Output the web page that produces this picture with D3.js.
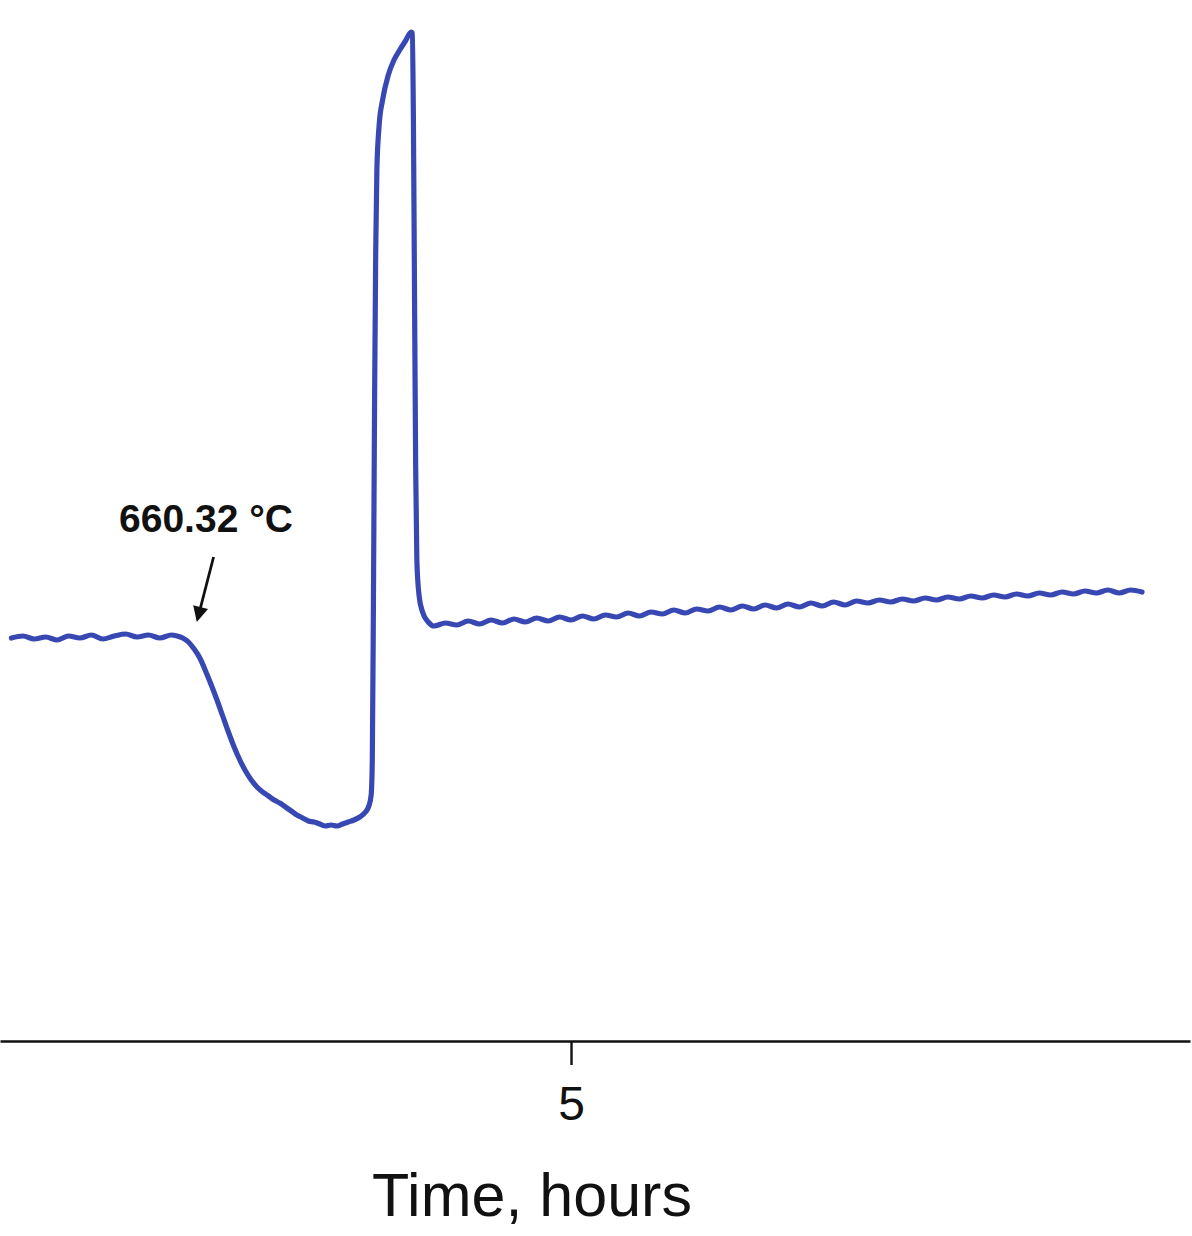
<!DOCTYPE html>
<html>
<head>
<meta charset="utf-8">
<script src="https://cdn.jsdelivr.net/npm/d3@7"></script>
<style>
  html, body { margin: 0; padding: 0; background: #fff; }
  svg { display: block; }
</style>
</head>
<body>
<svg id="chart" width="1192" height="1236"></svg>
<script>
// Time in hours
const timeHours = [
  0.1,0.2,0.3,0.4,0.5,0.6,0.7,0.8,0.9,1.0,1.1,1.2,1.3,1.4,1.5,1.55,1.6,1.65,1.7,1.75,
  1.8,1.85,1.9,1.95,2.0,2.05,2.1,2.15,2.2,2.25,2.3,2.35,2.4,2.45,2.5,2.55,2.6,2.65,2.7,2.75,
  2.8,2.85,2.9,2.95,3.0,3.05,3.1,3.15,3.2,3.23,3.25,3.26,3.27,3.28,3.29,3.3,3.32,3.35,3.4,3.45,
  3.5,3.55,3.6,3.61,3.62,3.63,3.64,3.65,3.67,3.7,3.75,3.8,3.9,4.0,4.1,4.2,4.3,4.4,4.5,4.6,
  4.7,4.8,4.9,5.0,5.1,5.2,5.3,5.4,5.5,5.6,5.7,5.8,5.9,6.0,6.1,6.2,6.3,6.4,6.5,6.6,
  6.7,6.8,6.9,7.0,7.1,7.2,7.3,7.4,7.5,7.6,7.7,7.8,7.9,8.0,8.1,8.2,8.3,8.4,8.5,8.6,
  8.7,8.8,8.9,9.0,9.1,9.2,9.3,9.4,9.5,9.6,9.7,9.8,9.9,10.0
];
// DTA signal (arbitrary units)
const signal = [
  40.3,40.5,40.2,40.4,40.1,40.5,40.3,40.6,40.2,40.5,40.7,40.4,40.6,40.3,40.6,40.5,40.3,39.9,39.2,38.3,
  37.0,35.6,34.1,32.5,30.9,29.4,28.1,27.0,26.1,25.4,24.9,24.5,24.1,23.8,23.4,23.0,22.6,22.3,22.0,21.9,
  21.7,21.5,21.6,21.5,21.7,21.9,22.1,22.4,22.9,23.5,24.6,28.1,44.1,64.1,79.1,87.1,91.6,94.1,96.6,98.1,
  99.1,100.0,100.9,100.8,92.1,74.1,57.1,48.1,44.5,42.9,41.9,41.5,41.8,41.6,42.0,41.7,42.1,41.8,42.2,41.9,
  42.3,42.0,42.4,42.1,42.5,42.2,42.6,42.4,42.8,42.5,42.9,42.7,43.1,42.8,43.2,43.0,43.4,43.1,43.5,43.2,
  43.6,43.3,43.7,43.4,43.8,43.5,43.9,43.6,44.0,43.8,44.1,43.9,44.2,44.0,44.3,44.1,44.4,44.2,44.5,44.3,
  44.6,44.4,44.7,44.5,44.8,44.6,44.9,44.7,45.0,44.8,45.1,44.8,45.1,44.9
];
const xTicks = [5];
const xTitle = "Time, hours";
const annotationText = "660.32 °C";
const annotationTime = 1.73;   // onset time in hours
const annotationSignal = 40.0;

const svg = d3.select("#chart");
const x = d3.scaleLinear().domain([0, 10.42]).range([0, 1190]);
const y = d3.scaleLinear().domain([0, 104.1]).range([1041, 0]);

const data = timeHours.map((t, i) => ({t, s: signal[i]}));

svg.append("path")
  .datum(data)
  .attr("fill", "none")
  .attr("stroke", "#3848b2")
  .attr("stroke-width", 5.2)
  .attr("stroke-linejoin", "round")
  .attr("stroke-linecap", "round")
  .attr("d", d3.line().curve(d3.curveMonotoneX).x(d => x(d.t)).y(d => y(d.s)));

// axis
const axis = svg.append("g")
  .attr("transform", "translate(0,1041)")
  .call(d3.axisBottom(x).tickValues(xTicks).tickFormat(d3.format("d")).tickSize(24).tickSizeOuter(0));
axis.select(".domain").attr("stroke", "#111").attr("stroke-width", 2.6);
axis.selectAll(".tick line").attr("stroke", "#111").attr("stroke-width", 2.4);
axis.selectAll(".tick text")
  .attr("y", 79).attr("dy", 0)
  .attr("fill", "#111")
  .style("font-family", "Liberation Sans, Arial, sans-serif")
  .style("font-size", "48px");

svg.append("text")
  .attr("x", 532).attr("y", 1216)
  .attr("text-anchor", "middle")
  .attr("fill", "#111")
  .style("font-family", "Liberation Sans, Arial, sans-serif")
  .style("font-size", "61px")
  .text(xTitle);

// annotation
svg.append("defs").append("marker")
  .attr("id", "arrow")
  .attr("viewBox", "0 0 10 10")
  .attr("refX", 8).attr("refY", 5)
  .attr("markerWidth", 7).attr("markerHeight", 5.5)
  .attr("markerUnits", "strokeWidth")
  .attr("orient", "auto")
  .append("path").attr("d", "M0,0 L10,5 L0,10 Z").attr("fill", "#111");

const ax = x(annotationTime), ay = y(annotationSignal);
svg.append("line")
  .attr("x1", ax + 16).attr("y1", ay - 84)
  .attr("x2", ax).attr("y2", ay - 22)
  .attr("stroke", "#111").attr("stroke-width", 2.8)
  .attr("marker-end", "url(#arrow)");

svg.append("text")
  .attr("x", 206).attr("y", 532)
  .attr("text-anchor", "middle")
  .attr("fill", "#111")
  .style("font-family", "Liberation Sans, Arial, sans-serif")
  .style("font-weight", "bold")
  .style("font-size", "39px")
  .text(annotationText);
</script>
</body>
</html>
